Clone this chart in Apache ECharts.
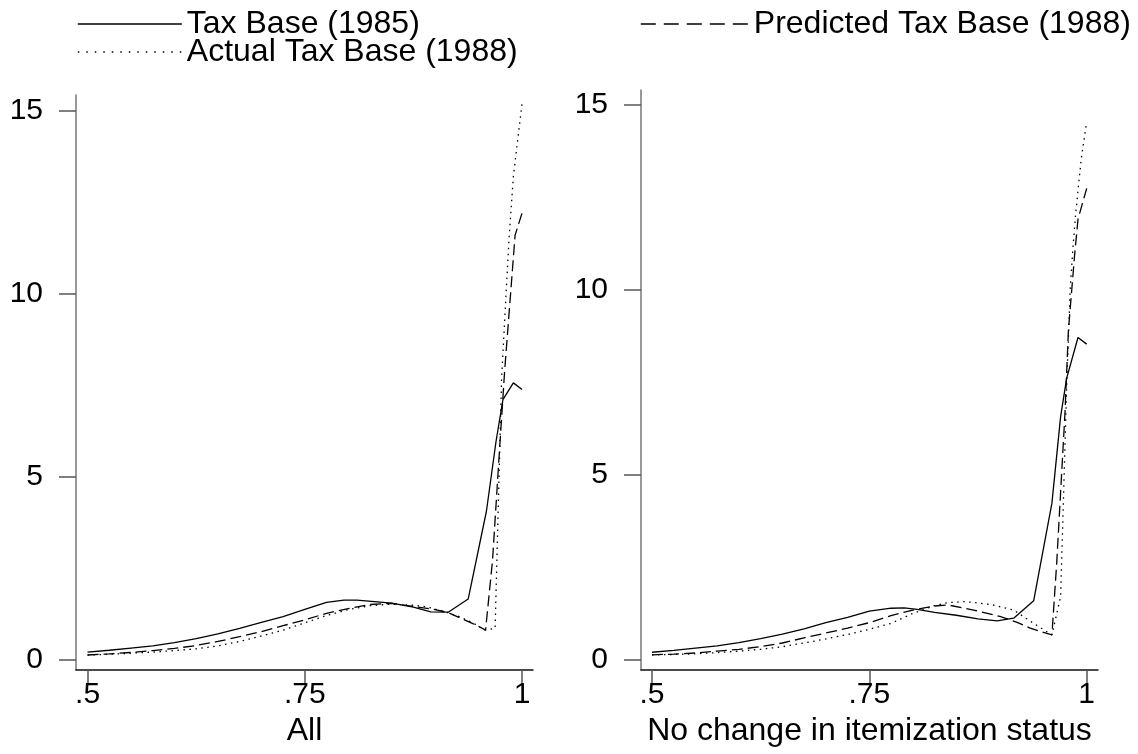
<!DOCTYPE html>
<html>
<head>
<meta charset="utf-8">
<script src="https://cdn.jsdelivr.net/npm/echarts@6/dist/echarts.min.js"></script>
<style>
  html, body { margin: 0; padding: 0; background: #fff; }
  #main { width: 1138px; height: 754px; }
</style>
</head>
<body>
<div id="main"></div>
<script>
var chart = echarts.init(document.getElementById('main'));
var FONT = 'Liberation Sans, Arial, Helvetica, sans-serif';

// series names (legend)
var seriesNames = ['Tax Base (1985)', 'Predicted Tax Base (1988)', 'Actual Tax Base (1988)'];
var panelTitles = ['All', 'No change in itemization status'];
var xTicks = [0.5, 0.75, 1];
var yTicks = [0, 5, 10, 15];

// panel 1: All  [percentile, value]
var allBase85 = [[0.5,0.20],[0.525,0.25],[0.55,0.31],[0.575,0.37],[0.6,0.46],[0.625,0.57],[0.65,0.70],[0.675,0.85],[0.7,1.01],[0.725,1.17],[0.75,1.37],[0.775,1.56],[0.795,1.62],[0.81,1.62],[0.83,1.58],[0.85,1.54],[0.875,1.43],[0.895,1.30],[0.915,1.29],[0.938,1.65],[0.959,4.05],[0.97,5.95],[0.978,7.1],[0.99,7.56],[1.0,7.38]];
var allPred88 = [[0.5,0.12],[0.525,0.15],[0.55,0.19],[0.575,0.24],[0.6,0.30],[0.625,0.38],[0.65,0.49],[0.675,0.62],[0.7,0.76],[0.725,0.92],[0.75,1.08],[0.775,1.26],[0.8,1.39],[0.825,1.50],[0.85,1.53],[0.875,1.45],[0.9,1.36],[0.915,1.28],[0.932,1.10],[0.948,0.93],[0.958,0.80],[0.966,2.7],[0.974,5.7],[0.98,7.9],[0.992,11.6],[1.0,12.2]];
var allActual88 = [[0.5,0.12],[0.525,0.14],[0.55,0.17],[0.575,0.20],[0.6,0.24],[0.625,0.29],[0.65,0.37],[0.675,0.49],[0.7,0.64],[0.725,0.80],[0.75,1.00],[0.775,1.20],[0.8,1.36],[0.825,1.47],[0.85,1.51],[0.875,1.48],[0.89,1.44],[0.91,1.31],[0.928,1.17],[0.944,0.99],[0.957,0.80],[0.969,0.85],[0.9765,7.7],[0.985,11.5],[0.99,13.2],[1.0,15.2]];

// panel 2: No change in itemization status
var noChgBase85 = [[0.5,0.19],[0.525,0.24],[0.55,0.30],[0.575,0.36],[0.6,0.45],[0.625,0.56],[0.65,0.68],[0.675,0.82],[0.7,0.99],[0.725,1.13],[0.75,1.30],[0.775,1.38],[0.79,1.39],[0.805,1.35],[0.825,1.27],[0.85,1.19],[0.875,1.09],[0.897,1.04],[0.916,1.11],[0.939,1.58],[0.96,4.22],[0.97,6.56],[0.977,7.6],[0.99,8.7],[1.0,8.52]];
var noChgPred88 = [[0.5,0.12],[0.525,0.14],[0.55,0.17],[0.575,0.22],[0.6,0.27],[0.625,0.34],[0.65,0.44],[0.675,0.58],[0.7,0.71],[0.725,0.84],[0.75,0.99],[0.775,1.18],[0.8,1.33],[0.825,1.44],[0.84,1.47],[0.87,1.33],[0.9,1.16],[0.92,1.00],[0.935,0.84],[0.96,0.66],[0.9655,2.6],[0.971,4.94],[0.975,6.65],[0.979,8.9],[0.986,10.9],[0.99,11.9],[1.0,12.73]];
var noChgActual88 = [[0.5,0.12],[0.525,0.13],[0.55,0.15],[0.575,0.18],[0.6,0.22],[0.625,0.27],[0.65,0.34],[0.675,0.44],[0.7,0.55],[0.725,0.67],[0.75,0.81],[0.775,0.97],[0.8,1.24],[0.825,1.45],[0.84,1.53],[0.86,1.56],[0.89,1.48],[0.916,1.33],[0.939,0.97],[0.96,0.66],[0.97,1.69],[0.973,4.1],[0.977,7.4],[0.981,10.0],[0.984,11.06],[0.987,11.96],[0.99,12.68],[0.994,13.58],[1.0,14.53]];

var lineTypes = ['solid', [11, 5], [1.5, 4.5]];
var legendTypes = ['solid', [15, 8], [1.5, 7]];

function xAxisCfg(idx, min, max) {
    return {
        type: 'value', gridIndex: idx, min: min, max: max,
        name: panelTitles[idx], nameLocation: 'middle', nameGap: 31,
        nameTextStyle: { fontFamily: FONT, fontSize: 32, color: '#000' },
        axisLine: { show: true, onZero: false, lineStyle: { color: '#111', width: 1.5 } },
        axisTick: { show: true, length: 13, customValues: xTicks, lineStyle: { color: '#555', width: 1.5 } },
        axisLabel: {
            customValues: xTicks, margin: 10, fontFamily: FONT, fontSize: 30, color: '#000',
            formatter: function (v) { return v === 1 ? '1' : String(v).replace(/^0/, ''); }
        },
        splitLine: { show: false }
    };
}
function yAxisCfg(idx, min, max) {
    return {
        type: 'value', gridIndex: idx, min: min, max: max,
        axisLine: { show: true, lineStyle: { color: '#777', width: 1.5 } },
        axisTick: { show: true, length: 17, customValues: yTicks, lineStyle: { color: '#555', width: 1.5 } },
        axisLabel: { customValues: yTicks, margin: 33, fontFamily: FONT, fontSize: 30, color: '#000' },
        splitLine: { show: false }
    };
}
function mkSeries(name, data, idx, k) {
    return {
        name: name, type: 'line', xAxisIndex: idx, yAxisIndex: idx,
        data: data, symbol: 'none', animation: false, color: '#000',
        itemStyle: { color: '#000' },
        lineStyle: { color: '#000', width: 1.3, type: lineTypes[k] }
    };
}
function mkLegend(k, left, top, w) {
    return {
        data: [seriesNames[k]], left: left, top: top, padding: 0,
        itemWidth: w, itemHeight: 16, selectedMode: false,
        itemStyle: { opacity: 0 },
        lineStyle: { type: legendTypes[k], width: 1.6, color: '#000' },
        textStyle: { fontFamily: FONT, fontSize: 32, color: '#000' }
    };
}

option = {
    backgroundColor: '#fff',
    animation: false,
    legend: [
        mkLegend(0, 77, 8, 104),
        mkLegend(1, 640, 8, 108),
        mkLegend(2, 77, 36, 104)
    ],
    grid: [
        { left: 76, top: 95, width: 457, height: 575 },
        { left: 641, top: 90, width: 457, height: 580 }
    ],
    xAxis: [xAxisCfg(0, 0.4867, 1.0126), xAxisCfg(1, 0.4874, 1.013)],
    yAxis: [yAxisCfg(0, -0.29, 15.43), yAxisCfg(1, -0.29, 15.39)],
    series: [
        mkSeries(seriesNames[0], allBase85, 0, 0),
        mkSeries(seriesNames[1], allPred88, 0, 1),
        mkSeries(seriesNames[2], allActual88, 0, 2),
        mkSeries(seriesNames[0], noChgBase85, 1, 0),
        mkSeries(seriesNames[1], noChgPred88, 1, 1),
        mkSeries(seriesNames[2], noChgActual88, 1, 2)
    ]
};
chart.setOption(option);
</script>
</body>
</html>
